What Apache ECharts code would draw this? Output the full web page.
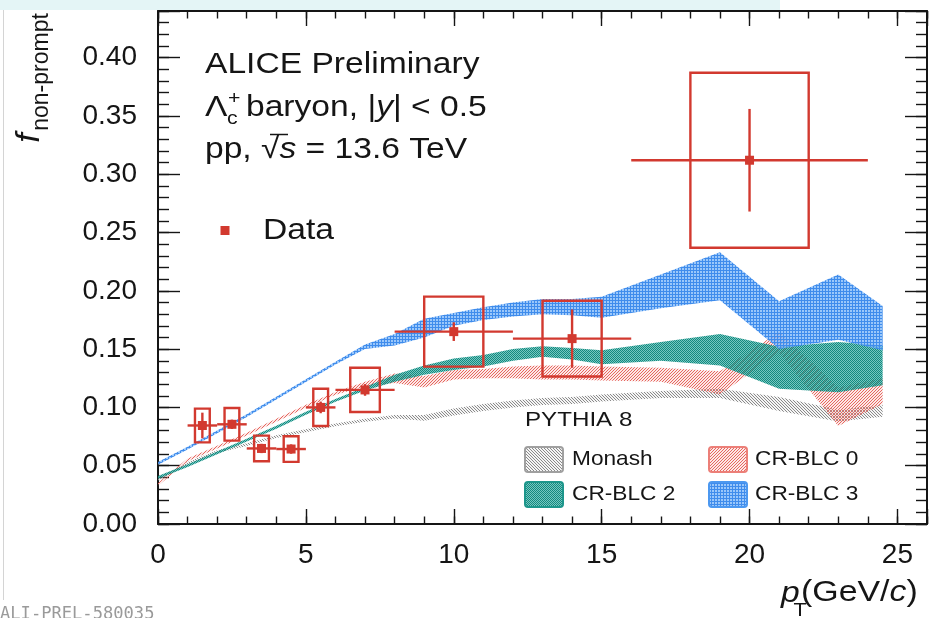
<!DOCTYPE html>
<html><head><meta charset="utf-8">
<script src="https://cdn.jsdelivr.net/npm/echarts@6/dist/echarts.min.js"></script>
<style>html,body{margin:0;padding:0;background:#fff}#c{width:930px;height:618px}</style>
</head><body><div id="c"></div>
<script>
// ---------------- data ----------------
const ptX    = [1.5, 2.5, 3.5, 4.5, 5.5, 7, 10, 14, 20];
const ptXErr = [0.5, 0.5, 0.5, 0.5, 0.5, 1, 2, 2, 4];
const ptY    = [0.0845, 0.0855, 0.0648, 0.0643, 0.100, 0.115, 0.165, 0.159, 0.312];
const ptStat = [0.011, 0.004, 0.004, 0.004, 0.005, 0.005, 0.008, 0.025, 0.044];
const ptSys  = [0.0145, 0.014, 0.011, 0.011, 0.016, 0.019, 0.030, 0.0325, 0.075];

const bandX     = [0, 1, 2, 3, 4, 5, 6, 7, 8, 9, 10, 11, 12, 13, 14, 15, 17, 19, 21, 23, 24.5];
const monashLo  = [0.0368,0.0508,0.0608,0.0668,0.0738,0.0788,0.0838,0.0878,0.0905,0.0885,0.093,0.097,0.100,0.102,0.103,0.105,0.108,0.108,0.097,0.088,0.092];
const monashHi  = [0.0392,0.0532,0.0632,0.0692,0.0762,0.0812,0.0862,0.0902,0.0935,0.0935,0.099,0.103,0.106,0.108,0.109,0.111,0.114,0.116,0.109,0.098,0.102];
const blc0Lo    = [0.0328,0.0538,0.0648,0.0758,0.0878,0.0998,0.1108,0.1180,0.121,0.117,0.124,0.125,0.125,0.124,0.124,0.123,0.122,0.111,0.147,0.084,0.103];
const blc0Hi    = [0.0352,0.0562,0.0672,0.0782,0.0902,0.1022,0.1132,0.1220,0.129,0.127,0.132,0.133,0.135,0.136,0.136,0.135,0.134,0.131,0.165,0.117,0.125];
const blc2Lo    = [0.0388,0.0488,0.0598,0.0708,0.0818,0.0938,0.1048,0.1145,0.122,0.128,0.132,0.135,0.140,0.1435,0.141,0.137,0.140,0.136,0.116,0.113,0.119];
const blc2Hi    = [0.0412,0.0512,0.0622,0.0732,0.0842,0.0962,0.1072,0.1175,0.128,0.136,0.142,0.145,0.150,0.1525,0.151,0.149,0.156,0.163,0.152,0.156,0.153];
const blc3Lo    = [0.0508,0.0638,0.0778,0.0918,0.1068,0.1218,0.1368,0.1500,0.153,0.160,0.170,0.175,0.178,0.180,0.179,0.177,0.185,0.192,0.150,0.158,0.149];
const blc3Hi    = [0.0532,0.0662,0.0802,0.0942,0.1092,0.1242,0.1392,0.1540,0.163,0.176,0.181,0.186,0.190,0.193,0.193,0.195,0.214,0.233,0.191,0.214,0.187];

const xTickLabels = ['0', '5', '10', '15', '20', '25'];
const yTickLabels = ['0.00','0.05','0.10','0.15','0.20','0.25','0.30','0.35','0.40'];

// ---------------- styling ----------------
const FONT = '"Liberation Sans", Arial, Helvetica, sans-serif';
const RED = '#d2392f';
const DARK = '#151515';

function pattern(kind) {
  const c = document.createElement('canvas');
  const ctx = c.getContext('2d');
  if (kind === 'monash') {
    c.width = c.height = 3;
    ctx.fillStyle = 'rgba(200,200,200,0.18)'; ctx.fillRect(0,0,3,3);
    ctx.fillStyle = '#8a8a8a';
    for (let i = 0; i < 3; i++) ctx.fillRect(i, i, 1, 1);
  } else if (kind === 'blc0') {
    c.width = c.height = 3;
    ctx.fillStyle = 'rgba(240,150,145,0.22)'; ctx.fillRect(0,0,3,3);
    ctx.fillStyle = '#e6675f';
    for (let i = 0; i < 3; i++) ctx.fillRect(2 - i, i, 1, 1);
  } else if (kind === 'blc2') {
    c.width = c.height = 2;
    ctx.fillStyle = 'rgba(60,175,165,0.7)'; ctx.fillRect(0,0,2,2);
    ctx.fillStyle = '#14897f';
    ctx.fillRect(0,0,1,1); ctx.fillRect(1,1,1,1);
  } else {
    c.width = c.height = 3;
    ctx.fillStyle = 'rgba(120,180,248,0.75)'; ctx.fillRect(0,0,3,3);
    ctx.fillStyle = '#3f8cec';
    ctx.fillRect(0,0,3,1); ctx.fillRect(0,0,1,3);
  }
  return { image: c, repeat: 'repeat' };
}
const PAT = { monash: pattern('monash'), blc0: pattern('blc0'), blc2: pattern('blc2'), blc3: pattern('blc3') };
const EDGE = { monash: '#a0a0a0', blc0: '#ec7f78', blc2: '#1d968b', blc3: '#4c98f0' };

function bandSeries(name, lo, hi, key, z) {
  return {
    type: 'custom', name, xAxisIndex: 0, yAxisIndex: 0, z, silent: true, clip: true,
    data: [[bandX[0], lo[0]]],
    renderItem(params, api) {
      const pts = [];
      for (let i = 0; i < bandX.length; i++) pts.push(api.coord([bandX[i], hi[i]]));
      for (let i = bandX.length - 1; i >= 0; i--) pts.push(api.coord([bandX[i], lo[i]]));
      return { type: 'polygon', shape: { points: pts }, style: { fill: PAT[key], stroke: null } };
    }
  };
}

const pointData = ptX.map((x, i) => [x, ptY[i], ptXErr[i], ptStat[i], ptSys[i]]);

const dataSeries = {
  type: 'custom', name: 'Data', xAxisIndex: 0, yAxisIndex: 0, z: 20, silent: true, clip: false,
  data: pointData,
  renderItem(params, api) {
    const x = api.value(0), y = api.value(1), xe = api.value(2), st = api.value(3), sy = api.value(4);
    const b1 = api.coord([x - xe / 2, y + sy]), b2 = api.coord([x + xe / 2, y - sy]);
    const h1 = api.coord([x - xe, y]), h2 = api.coord([x + xe, y]);
    const v1 = api.coord([x, y - st]), v2 = api.coord([x, y + st]);
    const c = api.coord([x, y]);
    const ls = { stroke: RED, lineWidth: 2.4, fill: null };
    return { type: 'group', children: [
      { type: 'rect', shape: { x: b1[0], y: b1[1], width: b2[0] - b1[0], height: b2[1] - b1[1] }, style: ls },
      { type: 'line', shape: { x1: h1[0], y1: h1[1], x2: h2[0], y2: h2[1] }, style: ls },
      { type: 'line', shape: { x1: v1[0], y1: v1[1], x2: v2[0], y2: v2[1] }, style: ls },
      { type: 'rect', shape: { x: c[0] - 4.5, y: c[1] - 4.5, width: 9, height: 9 }, style: { fill: RED } }
    ]};
  }
};

function xAxisDef(pos, interval, tickLen, showLine, showLabel) {
  return {
    type: 'value', position: pos, min: 0, max: 26, interval,
    axisLine: { show: showLine, onZero: false, lineStyle: { color: DARK, width: 2 } },
    axisTick: { show: true, inside: true, length: tickLen, lineStyle: { color: DARK, width: 1.4 } },
    axisLabel: { show: showLabel, margin: 17, fontSize: 28, color: DARK, fontFamily: FONT,
      formatter: v => { const k = xTickLabels.indexOf(String(Math.round(v))); return (Math.abs(v % 5) < 1e-6 && k >= 0) ? xTickLabels[k] : ''; } },
    splitLine: { show: false }, minorTick: { show: false }
  };
}
function yAxisDef(pos, interval, tickLen, showLine, showLabel) {
  return {
    type: 'value', position: pos, min: 0, max: 0.44, interval,
    axisLine: { show: showLine, onZero: false, lineStyle: { color: DARK, width: 2 } },
    axisTick: { show: true, inside: true, length: tickLen, lineStyle: { color: DARK, width: 1.4 } },
    axisLabel: { show: showLabel, margin: 21, fontSize: 28, color: DARK, fontFamily: FONT,
      formatter: v => { const k = Math.round(v / 0.05); return (Math.abs(v - k * 0.05) < 1e-6 && k < yTickLabels.length) ? yTickLabels[k] : ''; } },
    splitLine: { show: false }, minorTick: { show: false }
  };
}

function txt(x, yMid, text, size, opts = {}) {
  const style = opts.italic ? 'italic ' : '';
  const fam = opts.family || FONT;
  return {
    type: 'text', x, y: yMid, scaleX: opts.sx || 1, scaleY: 1, rotation: opts.rot || 0, z: 100,
    style: { text, x: 0, y: 0, font: `${style}${size}px ${fam}`, fill: opts.fill || DARK,
      align: opts.align || 'left', verticalAlign: 'middle', textAlign: opts.align || 'left', textVerticalAlign: 'middle' }
  };
}
const S = 1.12;
function legendBox(x, y, key) {
  return { type: 'rect', z: 100, shape: { x, y, width: 38, height: 25, r: 3 }, style: { fill: PAT[key], stroke: EDGE[key], lineWidth: 2 } };
}
const richMain = {
  n: { fontSize: 30, fontFamily: FONT, fill: DARK },
  i: { fontSize: 30, fontFamily: FONT, fontStyle: 'italic', fill: DARK }
};

const graphics = [
  { type: 'rect', z: 0, shape: { x: 0, y: 0, width: 780, height: 10 }, style: { fill: '#e4f5f6' } },
  { type: 'line', z: 0, shape: { x1: 3.5, y1: 10, x2: 3.5, y2: 600 }, style: { stroke: '#d4d4d4', lineWidth: 1 } },
  txt(0, 614, 'ALI-PREL-580035', 18, { fill: '#9a9a9a', family: '"DejaVu Sans Mono", "Liberation Mono", monospace', sx: 0.95 }),
  // y title
  { type: 'text', x: 30, y: 138, rotation: Math.PI / 2, z: 100,
    style: { text: 'f', font: `italic 34px ${FONT}`, fill: DARK, align: 'center', verticalAlign: 'middle', textAlign: 'center', textVerticalAlign: 'middle' } },
  { type: 'text', x: 42, y: 72, rotation: Math.PI / 2, z: 100,
    style: { text: 'non-prompt', font: `23px ${FONT}`, fill: DARK, align: 'center', verticalAlign: 'middle', textAlign: 'center', textVerticalAlign: 'middle' } },
  // x title
  txt(781, 594, 'p', 30, { italic: true, sx: S }),
  txt(793.5, 611, 'T', 19, { sx: S }),
  { type: 'text', x: 801, y: 592.5, scaleX: 1.13, z: 100,
    style: { text: '{n|(GeV/}{i|c}{n|)}', rich: richMain, align: 'left', verticalAlign: 'middle', textAlign: 'left', textVerticalAlign: 'middle' } },
  // annotations
  txt(205, 64.5, 'ALICE Preliminary', 30, { sx: S }),
  txt(205, 107.5, 'Λ', 30, { sx: S }),
  txt(227, 119, 'c', 19, { sx: S }),
  txt(228, 99, '+', 19, { sx: S }),
  { type: 'text', x: 246, y: 107.5, scaleX: S, z: 100,
    style: { text: '{n|baryon, |}{i|y}{n|| < 0.5}', rich: richMain, align: 'left', verticalAlign: 'middle', textAlign: 'left', textVerticalAlign: 'middle' } },
  { type: 'text', x: 205, y: 149.5, scaleX: S, z: 100,
    style: { text: '{n|pp, √}{i|s}{n| = 13.6 TeV}', rich: richMain, align: 'left', verticalAlign: 'middle', textAlign: 'left', textVerticalAlign: 'middle' } },
  { type: 'line', z: 100, shape: { x1: 270, y1: 134.5, x2: 288, y2: 134.5 }, style: { stroke: DARK, lineWidth: 1.5 } },
  { type: 'rect', z: 100, shape: { x: 220.5, y: 226, width: 9, height: 9 }, style: { fill: RED } },
  txt(263, 231, 'Data', 30, { sx: S }),
  txt(525, 420.5, 'PYTHIA 8', 21, { sx: 1.15 }),
  legendBox(525, 447, 'monash'), txt(572, 459.5, 'Monash', 21, { sx: 1.08 }),
  legendBox(709, 447, 'blc0'),   txt(755, 459.5, 'CR-BLC 0', 21, { sx: 1.08 }),
  legendBox(525, 482, 'blc2'),   txt(572, 494.5, 'CR-BLC 2', 21, { sx: 1.08 }),
  legendBox(709, 482, 'blc3'),   txt(755, 494.5, 'CR-BLC 3', 21, { sx: 1.08 })
];

const chart = echarts.init(document.getElementById('c'), null, { renderer: 'canvas' });
chart.setOption({
  animation: false,
  backgroundColor: '#ffffff',
  grid: { left: 158, right: 3, top: 11, bottom: 94, containLabel: false, outerBoundsMode: 'none' },
  xAxis: [
    xAxisDef('bottom', 5, 15, true, true),
    xAxisDef('bottom', 1, 7.5, false, false),
    xAxisDef('top', 5, 15, true, false),
    xAxisDef('top', 1, 7.5, false, false)
  ],
  yAxis: [
    yAxisDef('left', 0.05, 22, true, true),
    yAxisDef('left', 0.01, 11, false, false),
    yAxisDef('right', 0.05, 22, true, false),
    yAxisDef('right', 0.01, 11, false, false)
  ],
  series: [
    bandSeries('Monash', monashLo, monashHi, 'monash', 2),
    bandSeries('CR-BLC 0', blc0Lo, blc0Hi, 'blc0', 3),
    bandSeries('CR-BLC 2', blc2Lo, blc2Hi, 'blc2', 4),
    bandSeries('CR-BLC 3', blc3Lo, blc3Hi, 'blc3', 5),
    dataSeries
  ],
  graphic: { elements: graphics }
});
</script></body></html>
